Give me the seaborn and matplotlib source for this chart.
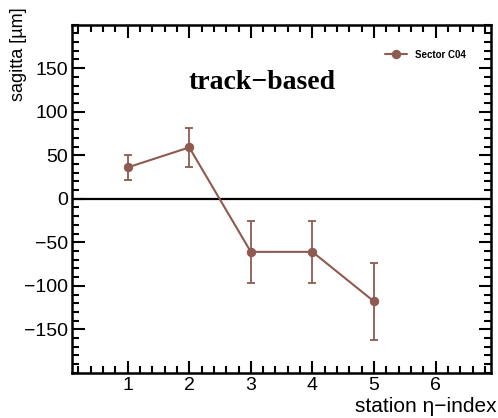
import numpy as np
import pandas as pd
import matplotlib
matplotlib.use("Agg")
import matplotlib.pyplot as plt
import seaborn as sns
from matplotlib.ticker import MultipleLocator

eta_index = [1, 2, 3, 4, 5]
sagitta = [36, 59, -61, -61, -118]
sagitta_err = [14, 22, 36, 36, 44]
series_name = "Sector C04"

sns.set_theme(style="ticks", rc={"text.color": "black", "axes.labelcolor": "black",
                                 "xtick.color": "black", "ytick.color": "black",
                                 "axes.edgecolor": "black"})
plt.rcParams["font.family"] = ["Liberation Sans", "DejaVu Sans"]

color = "#8f5a4f"
df = pd.DataFrame({"eta": eta_index, "sagitta": sagitta, "err": sagitta_err})

fig = plt.figure(figsize=(4.98, 4.18), dpi=100)
ax = fig.add_axes([0.145, 0.108, 0.841, 0.833])

ax.axhline(0, color="black", lw=1.6, zorder=1)
ax.errorbar(df["eta"], df["sagitta"], yerr=df["err"], fmt="none",
            ecolor=color, elinewidth=1.3, capsize=3, capthick=1.3, zorder=2)
sns.lineplot(data=df, x="eta", y="sagitta", ax=ax, color=color, lw=1.5,
             marker="o", markersize=6, markeredgecolor=color,
             label=series_name, zorder=3)

ax.set_xlim(0.1, 6.9)
ax.set_ylim(-200, 200)
ax.xaxis.set_minor_locator(MultipleLocator(0.2))
ax.yaxis.set_minor_locator(MultipleLocator(10))
ax.set_xticks([1, 2, 3, 4, 5, 6])
ax.set_yticks([-150, -100, -50, 0, 50, 100, 150])

ax.tick_params(which="both", direction="in", top=True, right=True,
               labelsize=14, width=1.5)
ax.tick_params(which="major", length=9, pad=3)
ax.tick_params(which="minor", length=5)
for s in ax.spines.values():
    s.set_linewidth(1.8)

ax.set_xlabel("station η−index", fontsize=15, loc="right")
ax.xaxis.set_label_coords(1.014, -0.07)
ax.set_ylabel("sagitta [µm]", fontsize=13, loc="top")
ax.yaxis.set_label_coords(-0.108, 1.05)

ax.text(0.454, 0.835, "track−based", transform=ax.transAxes, ha="center",
        va="center", fontsize=20, fontweight="bold",
        family=["Liberation Serif", "DejaVu Serif"])

leg = ax.legend(loc="center right", frameon=False,
                bbox_to_anchor=(0.96, 0.914), handlelength=2.2,
                prop={"weight": "bold", "size": 7})

fig.savefig("out.png", dpi=100)
